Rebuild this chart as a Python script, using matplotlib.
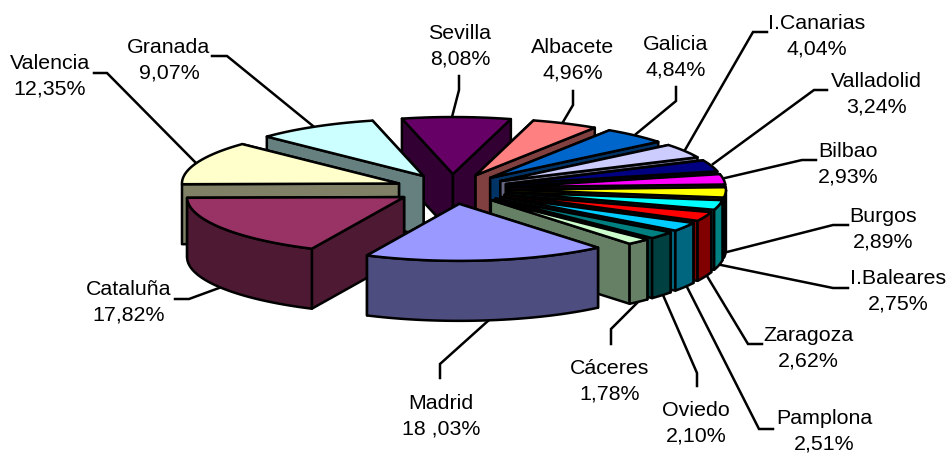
import numpy as np
import matplotlib
matplotlib.use("Agg")
import matplotlib.pyplot as plt
from matplotlib.patches import Polygon

plt.rcParams['font.family'] = ['Liberation Sans', 'DejaVu Sans']

names = ["Sevilla", "Albacete", "Galicia", "I.Canarias", "Valladolid", "Bilbao",
         "Burgos", "I.Baleares", "Zaragoza", "Pamplona", "Oviedo", "Cáceres",
         "Madrid", "Cataluña", "Valencia", "Granada"]
shares = [8.08, 4.96, 4.84, 4.04, 3.24, 2.93, 2.89, 2.75, 2.62, 2.51, 2.10, 1.78,
          18.03, 17.82, 12.35, 9.07]
share_labels = ["8,08%", "4,96%", "4,84%", "4,04%", "3,24%", "2,93%", "2,89%", "2,75%",
                "2,62%", "2,51%", "2,10%", "1,78%", "18 ,03%", "17,82%", "12,35%", "9,07%"]

top_colors = ["#660066", "#FF8080", "#0066CC", "#CCCCFF", "#000080", "#FF00FF",
              "#FFFF00", "#00FFFF", "#FF0000", "#00CCFF", "#008080", "#CCFFCC",
              "#9999FF", "#993366", "#FFFFCC", "#CCFFFF"]
side_colors = ["#330033", "#804040", "#003366", "#666680", "#000040", "#800080",
               "#808000", "#008080", "#800000", "#006680", "#004040", "#668066",
               "#4D4D80", "#4D1933", "#808066", "#668080"]

# label centre, then leader line from the label to the pie (pixels)
label_xy = [(460, 46), (573, 60), (676, 57), (817, 36), (876, 94), (848, 164),
            (883, 229), (898, 291), (808, 348), (824, 431), (696, 423), (610, 381),
            (441, 416), (129, 302), (50, 76), (169, 60)]
leaders = [[(459, 76), (459, 90), (452, 117)],
           [(573, 91), (573, 105), (563, 122)],
           [(676, 87), (676, 101), (636, 134)],
           [(767, 32), (753, 32), (685, 150)],
           [(827, 90), (814, 90), (713, 164)],
           [(816, 160), (802, 160), (725, 178)],
           [(848, 225), (833, 225), (727, 252)],
           [(848, 288), (833, 288), (721, 265)],
           [(762, 344), (748, 344), (707, 276)],
           [(773, 429), (759, 429), (687, 287)],
           [(697, 386), (697, 373), (663, 295)],
           [(611, 344), (611, 329), (638, 302)],
           [(440, 378), (440, 364), (489, 320)],
           [(175, 299), (189, 299), (219, 288)],
           [(94, 73), (107, 73), (195, 162)],
           [(212, 56), (227, 56), (313, 126)]]

# pie geometry
CX, CY = 452, 189
RX, RY = 217, 57
DEPTH = 60
EXPLODE = 57
START = -13.6
LW = 1.8


def rim(cx, cy, a0, a1, n=60):
    t = np.radians(np.linspace(a0, a1, n))
    return np.column_stack([cx + RX * np.sin(t), cy - RY * np.cos(t)])


fig = plt.figure(figsize=(9.47, 4.55), dpi=100)
ax = fig.add_axes([0, 0, 1, 1])
ax.set_xlim(0, 947)
ax.set_ylim(455, 0)
ax.axis("off")

for pts in leaders:
    ax.plot(*zip(*pts), color="black", lw=LW, zorder=1, solid_joinstyle="miter")

fractions = np.array(shares) / sum(shares) * 360
ends = START + np.cumsum(fractions)
starts = ends - fractions
mids = (starts + ends) / 2
centers_x = CX + EXPLODE * np.sin(np.radians(mids))
centers_y = CY - EXPLODE * RY / RX * np.cos(np.radians(mids))

z = 2
for i in np.argsort(centers_y):
    cx, cy = centers_x[i], centers_y[i]
    edge = rim(cx, cy, starts[i], ends[i])
    drop = np.array([0, DEPTH])
    apex = np.array([cx, cy])

    # back wall first, so the front one covers it
    outer = sorted([edge[0], edge[-1]], key=lambda p: p[1])
    walls = [np.array([apex, p, p + drop, apex + drop]) for p in outer]

    # only the part of the rim that faces the viewer
    front = edge[edge[:, 1] >= cy]
    if len(front) > 1:
        walls.append(np.vstack([front, (front + drop)[::-1]]))

    for w in walls:
        ax.add_patch(Polygon(w, closed=True, facecolor=side_colors[i], edgecolor="black",
                             lw=LW, joinstyle="round", zorder=z))
        z += 1
    ax.add_patch(Polygon(np.vstack([apex, edge]), closed=True, facecolor=top_colors[i],
                         edgecolor="black", lw=LW, joinstyle="round", zorder=z))
    z += 1

for name, lab, (x, y) in zip(names, share_labels, label_xy):
    ax.text(x, y, name + "\n" + lab, ha="center", va="center", fontsize=15.4,
            linespacing=1.42, color="black", zorder=z)

fig.savefig("out.png", dpi=100)
